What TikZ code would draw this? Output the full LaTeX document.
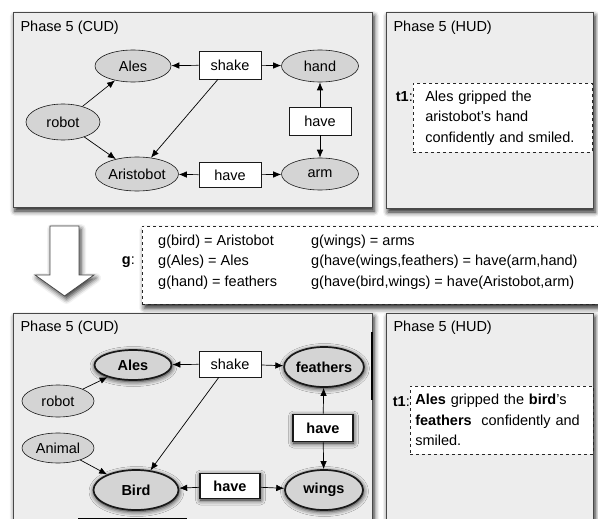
\documentclass[tikz,border=0pt]{standalone}
\usepackage{fontspec}
\setmainfont{Liberation Sans}
\usetikzlibrary{arrows.meta,shapes.geometric,shadows.blur}

\definecolor{panelgray}{HTML}{EDEDED}
\definecolor{conceptgray}{HTML}{D4D4D4}
\definecolor{framegray}{HTML}{484848}

\newcommand{\phasefont}{\fontsize{14.5}{20.5}\selectfont}

\begin{document}
\begin{tikzpicture}[x=1pt,y=-1pt,>={Latex[length=8pt,width=6.5pt]},
  every node/.style={font=\phasefont},
  panel/.style={draw=framegray,line width=0.8pt,fill=panelgray,
    blur shadow={shadow xshift=2pt,shadow yshift=-4pt,shadow blur radius=5pt,shadow opacity=90}},
  concept/.style={ellipse,draw=black!90,fill=conceptgray,inner sep=0pt,line width=0.6pt},
  mapped/.style={concept,line width=1.7pt,font=\phasefont\bfseries,
    blur shadow={shadow xshift=0.5pt,shadow yshift=-1.5pt,shadow blur radius=5pt,shadow opacity=95}},
  relation/.style={rectangle,draw=black!90,fill=white,inner sep=0pt,minimum width=62,minimum height=27,line width=0.6pt},
  mappedrel/.style={relation,line width=1.7pt,font=\phasefont\bfseries,
    blur shadow={shadow xshift=0.5pt,shadow yshift=-1.5pt,shadow blur radius=5pt,shadow opacity=95}},
  textbox/.style={draw=black!85,dashed,line width=0.6pt,fill=white,align=left},
  link/.style={->,line width=0.7pt,black}]

\useasboundingbox (0,0) rectangle (598,519);
\clip (0,0) rectangle (598,519);

%%%%%%%%%%%%%%%%%%%%%%%%%%%%%%%%%%%%%%

\draw [panel] (13,12) rectangle (372,207);
\node[anchor=west] (cudtop) at (17,28) {Phase 5 (CUD)};

\node[concept,minimum width=76,minimum height=32] (ales) at (133,66) {Ales};
\node[relation,minimum height=28] (shake) at (230,65) {shake};
\node[concept,minimum width=77,minimum height=32] (hand) at (320,66) {hand};
\node[concept,minimum width=74,minimum height=36] (robot) at (63,122) {robot};
\node[relation,minimum height=28] (havearm) at (320,121) {have};
\node[concept,minimum width=83,minimum height=34] (aristo) at (137,174) {Aristobot};
\node[relation,minimum height=25] (havearisto) at (230,175) {have};
\node[concept,minimum width=77,minimum height=32] (arm) at (320,174) {arm};

\draw[link] (robot) -- (ales);
\draw[link] (robot) -- (aristo);
\draw[link] (shake) -- (ales);
\draw[link] (shake) -- (hand);
\draw[link] (shake.230) -- (aristo);
\draw[link] (havearm) -- (hand);
\draw[link] (havearm) -- (arm);
\draw[link] (havearisto) -- (aristo);
\draw[link] (havearisto) -- (arm);

%%%%%%%%%%%%%%%%%%%%%%%%%%%%%%%%%%%%%%

\draw [panel] (386,12) rectangle (593,208);
\node[anchor=west] (hudtop) at (390,28) {Phase 5 (HUD)};

\node[textbox,anchor=north west,text width=155,inner xsep=12,minimum height=69] (storytop) at (413,83)
  {Ales gripped the\\aristobot's hand\\confidently and smiled.};
\node[anchor=east,inner sep=0pt] (tonetop) at (storytop.west |- 0,97) {\textbf{t1}:};

%%%%%%%%%%%%%%%%%%%%%%%%%%%%%%%%%%%%%%

\draw [fill=white,draw=framegray,line width=0.8pt,
  blur shadow={shadow xshift=2pt,shadow yshift=-3pt,shadow blur radius=5pt,shadow opacity=80}]
  (50,226) -- (79,226) -- (79,275) -- (94,275) -- (64.5,296) -- (35,275) -- (50,275) -- cycle;

\node[textbox,anchor=north west,minimum width=472,minimum height=78,
  blur shadow={shadow xshift=2pt,shadow yshift=-4pt,shadow blur radius=5pt,shadow opacity=85}] (gmap) at (142,226) {};
\node[anchor=west,inner sep=0pt] (gpairs) at (158,261.5)
  {\begin{tabular}{@{}p{153pt}@{}l@{}}
   g(bird) = Aristobot & g(wings) = arms\\
   g(Ales) = Ales & g(have(wings,feathers) = have(arm,hand)\\
   g(hand) = feathers & g(have(bird,wings) = have(Aristobot,arm)
   \end{tabular}};
\node[anchor=east,inner sep=0pt] (glabel) at (135,262) {\textbf{g}:};

%%%%%%%%%%%%%%%%%%%%%%%%%%%%%%%%%%%%%%

\draw [panel] (13,313) rectangle (372,540);
\node[anchor=west] (cudbot) at (17,328) {Phase 5 (CUD)};

\node[mapped,minimum width=77,minimum height=30] (alesb) at (133,365) {Ales};
\node[relation,minimum height=26] (shakeb) at (230,364) {shake};
\node[mapped,minimum width=78,minimum height=40] (feathers) at (324,367) {feathers};
\node[concept,minimum width=72,minimum height=32] (robotb) at (58,401) {robot};
\node[mappedrel,minimum width=60,minimum height=27] (havewings) at (323,428) {have};
\node[concept,minimum width=72,minimum height=30] (animal) at (58,448) {Animal};
\node[mapped,minimum width=85,minimum height=40] (bird) at (136,490) {Bird};
\node[mappedrel,minimum width=60,minimum height=25] (havebird) at (230,486) {have};
\node[mapped,minimum width=78,minimum height=40] (wings) at (324,490) {wings};

\draw[link] (robotb) -- (alesb);
\draw[link] (animal) -- (bird);
\draw[link] (shakeb) -- (alesb);
\draw[link] (shakeb) -- (feathers);
\draw[link] (shakeb.230) -- (bird);
\draw[link] (havewings) -- (feathers);
\draw[link] (havewings) -- (wings);
\draw[link] (havebird) -- (bird);
\draw[link] (havebird) -- (wings);

\draw[line width=2.2pt] (372,332) -- (372,400);
\draw[line width=2.5pt] (78,519) -- (187,519);

%%%%%%%%%%%%%%%%%%%%%%%%%%%%%%%%%%%%%%

\draw [panel] (386,313) rectangle (593,540);
\node[anchor=west] (hudbot) at (390,328) {Phase 5 (HUD)};

\node[textbox,anchor=north west,text width=173,inner xsep=5,minimum height=68] (storybot) at (410,386)
  {\textbf{Ales} gripped the \textbf{bird}'s\\\textbf{feathers}\ \ confidently and\\smiled.};
\node[anchor=east,inner sep=0pt] (tonebot) at (storybot.west |- 0,402) {\textbf{t1}:};

\end{tikzpicture}
\end{document}
